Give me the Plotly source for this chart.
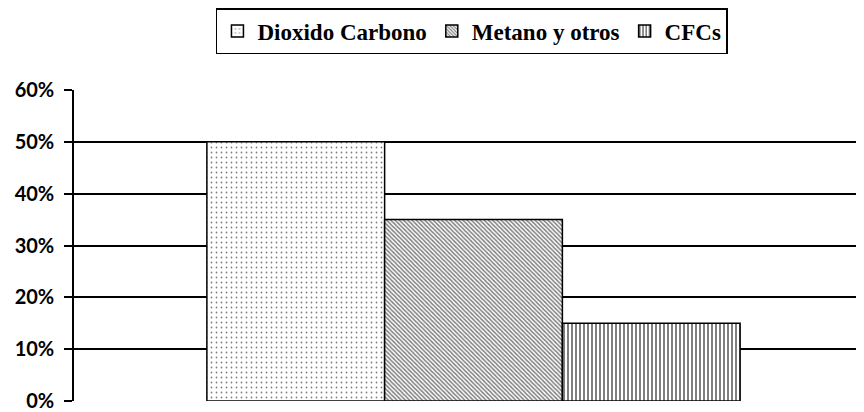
import plotly.graph_objects as go

categories = [""]
series_names = ["Dioxido Carbono", "Metano y otros", "CFCs"]
series_values = [[0.50], [0.35], [0.15]]
tick_vals = [0, 0.1, 0.2, 0.3, 0.4, 0.5, 0.6]
tick_text = ["0%", "10%", "20%", "30%", "40%", "50%", "60%"]

patterns = [
    dict(shape=".", size=5, solidity=0.1),
    dict(shape="\\", size=3, solidity=0.5),
    dict(shape="|", size=4, solidity=0.5),
]

fig = go.Figure()
for name, vals, pat in zip(series_names, series_values, patterns):
    fig.add_trace(go.Bar(
        x=categories, y=vals, name=name,
        marker=dict(color="white", line=dict(color="black", width=1.5),
                    pattern=dict(fgcolor="black", bgcolor="white", fillmode="overlay", **pat)),
    ))

fig.update_layout(
    width=856, height=404,
    margin=dict(l=66, r=0, t=82, b=11, autoexpand=False),
    paper_bgcolor="white", plot_bgcolor="white",
    barmode="group", bargap=0.325, bargroupgap=0,
    showlegend=True,
    legend=dict(orientation="h", x=0.542, xref="container", xanchor="center",
                y=1.0, yref="container", yanchor="top",
                bordercolor="black", borderwidth=1.5,
                font=dict(family="Liberation Serif", size=23, color="black", weight="bold"),
                itemwidth=30, tracegroupgap=0),
    xaxis=dict(range=[-0.5057, 0.4943], showticklabels=False, showgrid=False, showline=False,
               zeroline=False, ticks=""),
    yaxis=dict(range=[0, 0.6], tickvals=tick_vals, ticktext=tick_text,
               showgrid=True, gridcolor="black", gridwidth=1.5,
               showline=True, linecolor="black", linewidth=1.5,
               ticks="outside", ticklen=8, tickcolor="black", tickwidth=1.5,
               ticklabelstandoff=6, zeroline=False,
               tickfont=dict(family="Lato", size=20, color="black", weight="bold")),
)

fig.write_html("out.html")
